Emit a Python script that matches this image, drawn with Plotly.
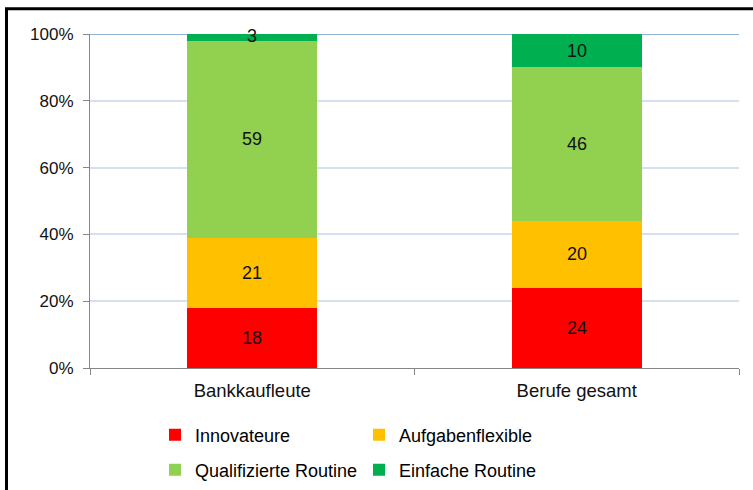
import plotly.graph_objects as go

categories = ["Bankkaufleute", "Berufe gesamt"]
series_names = ["Innovateure", "Aufgabenflexible", "Qualifizierte Routine", "Einfache Routine"]
innovateure = [18, 24]
aufgabenflexible = [21, 20]
qualifizierte = [59, 46]
einfache = [3, 10]
colors = ["#FF0000", "#FFC000", "#92D050", "#00B050"]
tick_vals = [0, 20, 40, 60, 80, 100]
tick_text = ["0%", "20%", "40%", "60%", "80%", "100%"]

values = [innovateure, aufgabenflexible, qualifizierte, einfache]
legend_ids = ["legend", "legend", "legend2", "legend2"]

FONT = "Liberation Sans, Arial, sans-serif"

fig = go.Figure()
annotations = []
bases = [0] * len(categories)
for name, vals, col, lg in zip(series_names, values, colors, legend_ids):
    fig.add_trace(go.Bar(
        x=categories, y=vals, name=name, legend=lg,
        marker=dict(color=col, line=dict(width=0)),
        width=0.4, hoverinfo="skip",
    ))
    for i, (c, v) in enumerate(zip(categories, vals)):
        annotations.append(dict(
            x=c, y=bases[i] + v / 2, xref="x", yref="y", text=str(v),
            showarrow=False, font=dict(size=18, color="#111111", family=FONT),
            xanchor="center", yanchor="middle",
        ))
        bases[i] += v

W, H = 753, 490
L, R, T, B = 90, 14, 34, 122
pw, ph = W - L - R, H - T - B

legend_common = dict(
    orientation="h", xanchor="left", yanchor="middle",
    font=dict(size=18, color="black", family=FONT),
    entrywidth=159, entrywidthmode="pixels", itemwidth=30,
    traceorder="normal", bgcolor="rgba(0,0,0,0)",
)

fig.update_layout(
    barmode="stack",
    width=W, height=H,
    margin=dict(l=L, r=R, t=T, b=B, autoexpand=False),
    paper_bgcolor="white", plot_bgcolor="white",
    font=dict(family=FONT, size=17, color="black"),
    showlegend=True,
    legend=dict(x=(155 - L) / pw, y=-(435 - (T + ph)) / ph, **legend_common),
    legend2=dict(x=(155 - L) / pw, y=-(470 - (T + ph)) / ph, **legend_common),
    xaxis=dict(
        showline=True, linecolor="#868686", linewidth=1,
        ticks="outside", ticklen=6, tickcolor="#868686",
        tickfont=dict(size=18.5, color="#111111"), showgrid=False,
        tickson="boundaries", ticklabelstandoff=6, automargin=False,
    ),
    yaxis=dict(
        range=[0, 100], tickvals=tick_vals, ticktext=tick_text,
        showline=True, linecolor="#868686", linewidth=1,
        ticks="outside", ticklen=6, tickcolor="#868686",
        gridcolor="#d6dff0", gridwidth=2, zeroline=False,
        tickfont=dict(size=17, color="#111111"), ticklabelstandoff=6,
        automargin=False,
    ),
    annotations=annotations,
    shapes=[
        dict(type="line", xref="paper", yref="y", x0=0, x1=1, y0=100, y1=100,
             line=dict(color="#95b3d7", width=2), layer="below"),
        dict(type="rect", xref="paper", yref="paper",
             x0=(6.5 - L) / pw, x1=1.1, y0=-0.6, y1=1 + (T - 8.75) / ph,
             line=dict(color="black", width=3), fillcolor="rgba(0,0,0,0)"),
    ],
)

fig.write_html("out.html", config={"displayModeBar": False},
               post_script="document.body.style.margin='0';")
